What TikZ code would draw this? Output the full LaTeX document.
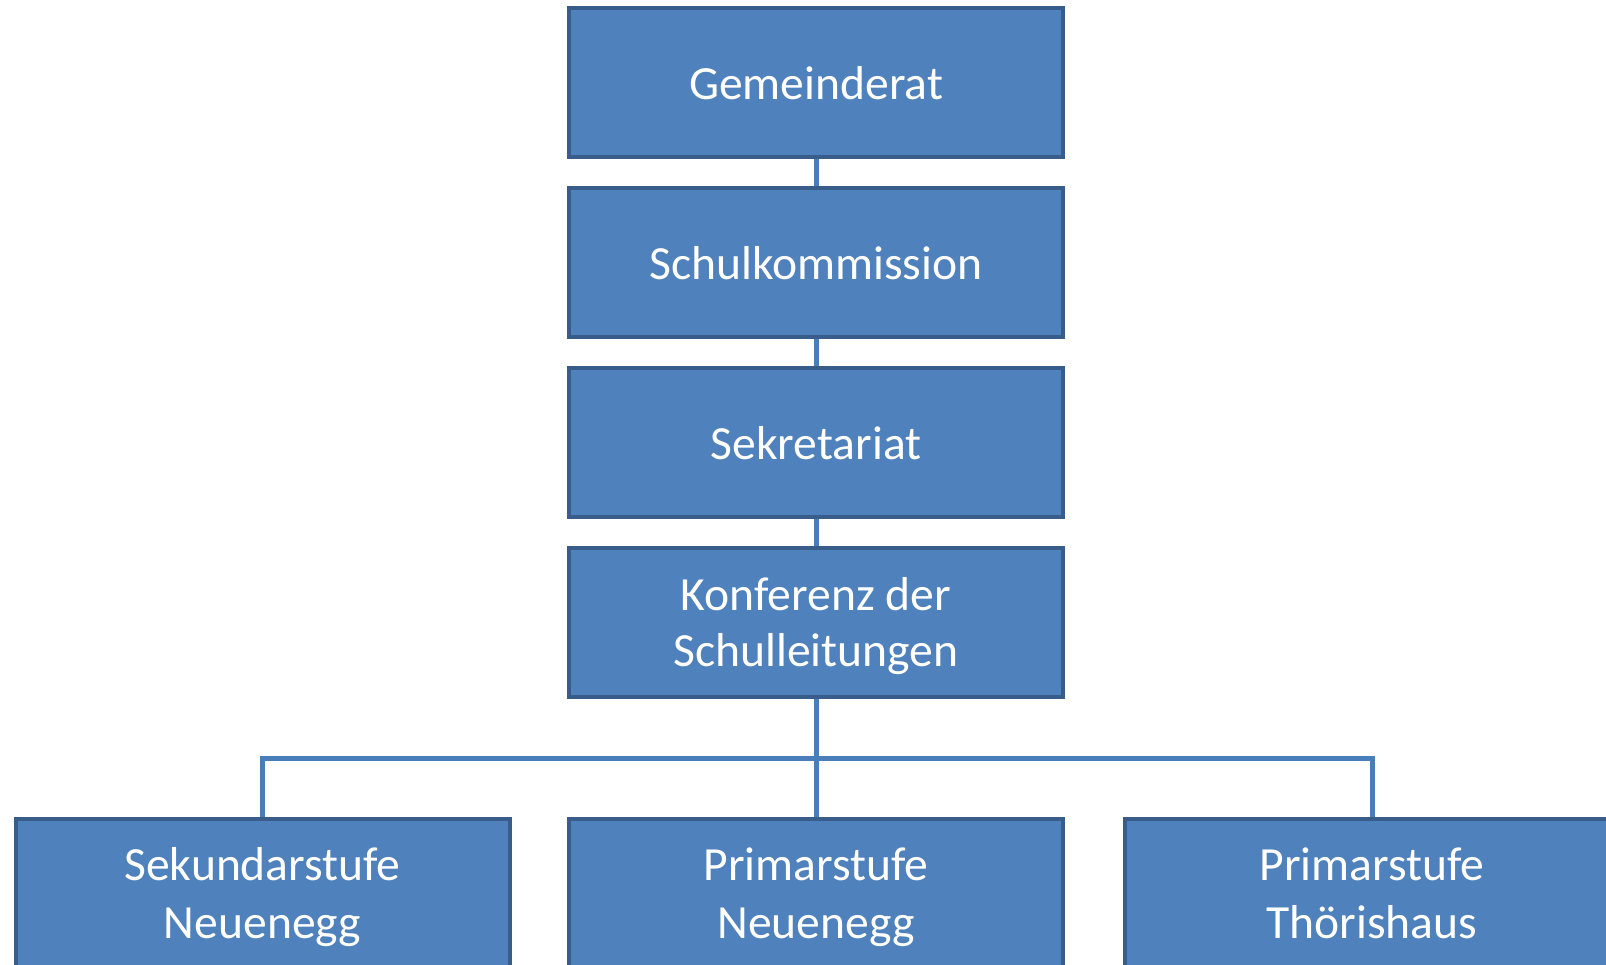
\documentclass[tikz,border=0pt]{standalone}
\usepackage{fontspec}
\setmainfont{Carlito}
\usepackage{tikz}
\usepackage{xcolor}

\definecolor{boxfill}{HTML}{4F81BD}
\definecolor{boxline}{HTML}{385D8A}
\definecolor{linkcol}{HTML}{4A7EBB}

\tikzset{
  orgbox/.style={draw=boxline, fill=boxfill, line width=2pt,
    minimum width=247pt, minimum height=74.5pt, inner sep=0pt,
    text=white, align=center, text height=17pt, text depth=0pt,
    font=\fontsize{23.8pt}{28.8pt}\selectfont},
  twoline/.style={text height=#1, font=\fontsize{23.8pt}{29pt}\selectfont},
  link/.style={draw=linkcol, line width=2.5pt}
}

\begin{document}
\begin{tikzpicture}[x=0.5pt,y=-0.5pt]
  \useasboundingbox (0,0) rectangle (1606,964);
  \node[orgbox] (gemeinderat) at (816,82.5) {Gemeinderat};
  \node[orgbox] (schulkom) at (816,262.5) {Schulkommission};
  \node[orgbox] (sekretariat) at (816,442.5) {Sekretariat};
  \node[orgbox, twoline=43.5pt, font=\fontsize{23.8pt}{28pt}\selectfont]
    (konferenz) at (816,622.5) {Konferenz der\\Schulleitungen};
  \node[orgbox, twoline=44.5pt] (sekneu) at (262.5,893.5) {Sekundarstufe\\Neuenegg};
  \node[orgbox, twoline=44.5pt] (primneu) at (816,893.5) {Primarstufe\\Neuenegg};
  \node[orgbox, twoline=44.5pt] (primthoer) at (1372,893.5) {Primarstufe\\Thörishaus};
  \coordinate (bus) at (816,758);
  \draw[link] (gemeinderat) -- (schulkom);
  \draw[link] (schulkom) -- (sekretariat);
  \draw[link] (sekretariat) -- (konferenz);
  \draw[link] (konferenz) -- (primneu);
  \draw[link] (sekneu.north) |- (bus) -| (primthoer.north);
\end{tikzpicture}
\end{document}
